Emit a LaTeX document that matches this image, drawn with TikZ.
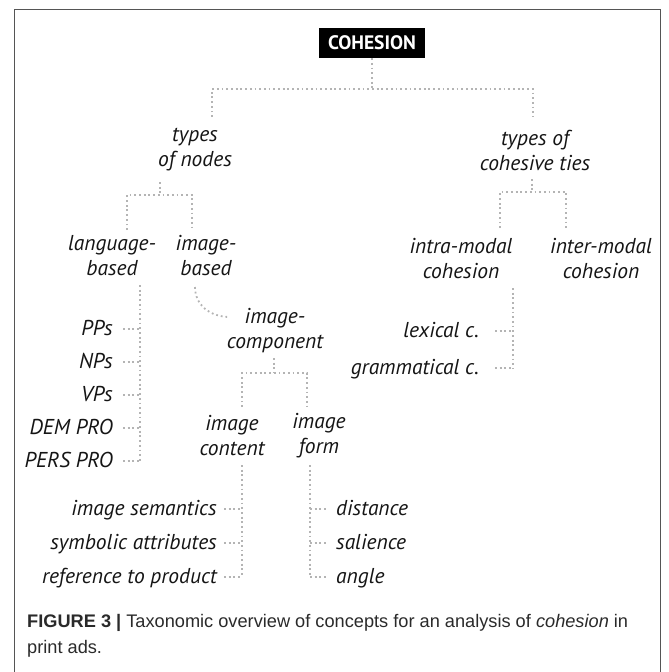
\documentclass[tikz,border=0pt]{standalone}
\usepackage{fontspec}
\newfontfamily\treefont{PT Sans}
\newfontfamily\capfont{Liberation Sans}
\definecolor{dotgray}{HTML}{B4B4B4}
\definecolor{framegray}{HTML}{555555}
\definecolor{txt}{HTML}{151515}
\definecolor{captxt}{HTML}{2A2A2A}
\tikzset{
  lbl/.style={font=\treefont\itshape\fontsize{21.5}{25}\selectfont, text=txt, inner sep=0pt, align=center},
  leafE/.style={lbl, anchor=base east},
  leafW/.style={lbl, anchor=base west},
  rootbox/.style={fill=black, text=white, font=\treefont\bfseries\fontsize{19.5}{21}\selectfont,
    minimum width=106pt, minimum height=30pt, inner sep=0pt},
  dotline/.style={draw=dotgray, line width=1.8pt, dash pattern=on 1.8pt off 2.9pt},
  framestyle/.style={draw=framegray, line width=1pt},
  captext/.style={font=\capfont\fontsize{18.2}{20}\selectfont, text=captxt, inner sep=0pt, anchor=base west}
}
\begin{document}
\begin{tikzpicture}[x=1pt,y=-1pt]
\useasboundingbox (0,0) rectangle (669,672);
\clip (0,0) rectangle (669,672);
% frame
\draw[framestyle] (14,690) -- (14,9) -- (660,9) -- (660,690);

% root
\node[rootbox] (coh) at (372,43) {COHESION};

% level 1
\node[lbl] (tn) at (195,150) {types\\of nodes};
\node[lbl] (tc) at (535,150) {types of\\cohesive ties};
\coordinate (j1) at (372,89);
\coordinate (j1L) at (212,89);
\coordinate (j1R) at (533,89);
\coordinate (e1L) at (212,117);
\coordinate (e1R) at (533,117);
\draw[dotline] (coh.south) -- (j1);
\draw[dotline] (e1L) -- (j1L) -- (j1R) -- (e1R);

% level 2 left
\node[lbl] (lb) at (112,256) {language-\\based};
\node[lbl] (ib) at (206,256) {image-\\based};
\coordinate (s2) at (160,182);
\coordinate (j2) at (160,195);
\coordinate (j2L) at (127,195);
\coordinate (j2R) at (192,195);
\coordinate (e2L) at (127,230);
\coordinate (e2R) at (192,230);
\draw[dotline] (s2) -- (j2);
\draw[dotline] (e2L) -- (j2L) -- (j2R) -- (e2R);

% level 2 right
\node[lbl] (im) at (461,259) {intra-modal\\cohesion};
\node[lbl] (em) at (601,259) {inter-modal\\cohesion};
\coordinate (s3) at (532,179);
\coordinate (j3) at (532,192);
\coordinate (j3L) at (500,192);
\coordinate (j3R) at (566,192);
\coordinate (e3L) at (500,228);
\coordinate (e3R) at (566,228);
\draw[dotline] (s3) -- (j3);
\draw[dotline] (e3L) -- (j3L) -- (j3R) -- (e3R);

% language-based leaves
\coordinate (lv0) at (140,285);
\foreach \name/\txt/\y in {pp/PPs/329, np/NPs/362, vp/VPs/395, dem/DEM PRO/428, pers/PERS PRO/461}{
  \node[leafE] (\name) at (113,\y+6) {\txt};
  \coordinate (\name c) at (140,\y);
  \draw[dotline] (\name.base east) ++(10,-6) -- (\name c);
}
\draw[dotline] (lv0) -- (persc);

% image-based -> image-component
\node[lbl] (ic) at (275,331) {image-\\component};
\coordinate (a0) at (195,287);
\coordinate (a1) at (230,317);
\draw[dotline] (a0) .. controls (195,305) and (210,317) .. (a1);

\coordinate (s4) at (274,358);
\coordinate (j4) at (274,373);
\coordinate (j4L) at (242,373);
\coordinate (j4R) at (307,373);
\coordinate (e4L) at (242,407);
\coordinate (e4R) at (307,407);
\draw[dotline] (s4) -- (j4);
\draw[dotline] (e4L) -- (j4L) -- (j4R) -- (e4R);

\node[lbl] (icn) at (232,436) {image\\content};
\node[lbl] (ifm) at (319,436) {image\\form};

% image content leaves
\coordinate (cv0) at (242,465);
\foreach \name/\txt/\y in {sem/image semantics/509, sym/symbolic attributes/543, ref/reference to product/577}{
  \node[leafE] (\name) at (217,\y+6) {\txt};
  \coordinate (\name c) at (242,\y);
  \draw[dotline] (\name.base east) ++(7,-6) -- (\name c);
}
\draw[dotline] (cv0) -- (refc);

% image form leaves
\coordinate (fv0) at (310,465);
\foreach \name/\txt/\y in {dis/distance/509, sal/salience/543, ang/angle/577}{
  \node[leafW] (\name) at (336,\y+6) {\txt};
  \coordinate (\name c) at (310,\y);
  \draw[dotline] (\name c) -- ++(16,0);
}
\draw[dotline] (fv0) -- (angc);

% intra-modal leaves
\coordinate (iv0) at (513,288);
\node[leafE] (lex) at (479,337) {lexical c.};
\node[leafE] (gram) at (479,374) {grammatical c.};
\coordinate (lexc) at (513,331);
\coordinate (gramc) at (513,368);
\draw[dotline] (lex.base east) ++(16,-6) -- (lexc);
\draw[dotline] (gram.base east) ++(16,-6) -- (gramc);
\draw[dotline] (iv0) -- (gramc);

% caption
\node[captext] (cap1) at (27,627.5) {\textbf{FIGURE 3 |} Taxonomic overview of concepts for an analysis of \textit{cohesion} in};
\node[captext] (cap2) at (27,653) {print ads.};
\end{tikzpicture}
\end{document}
